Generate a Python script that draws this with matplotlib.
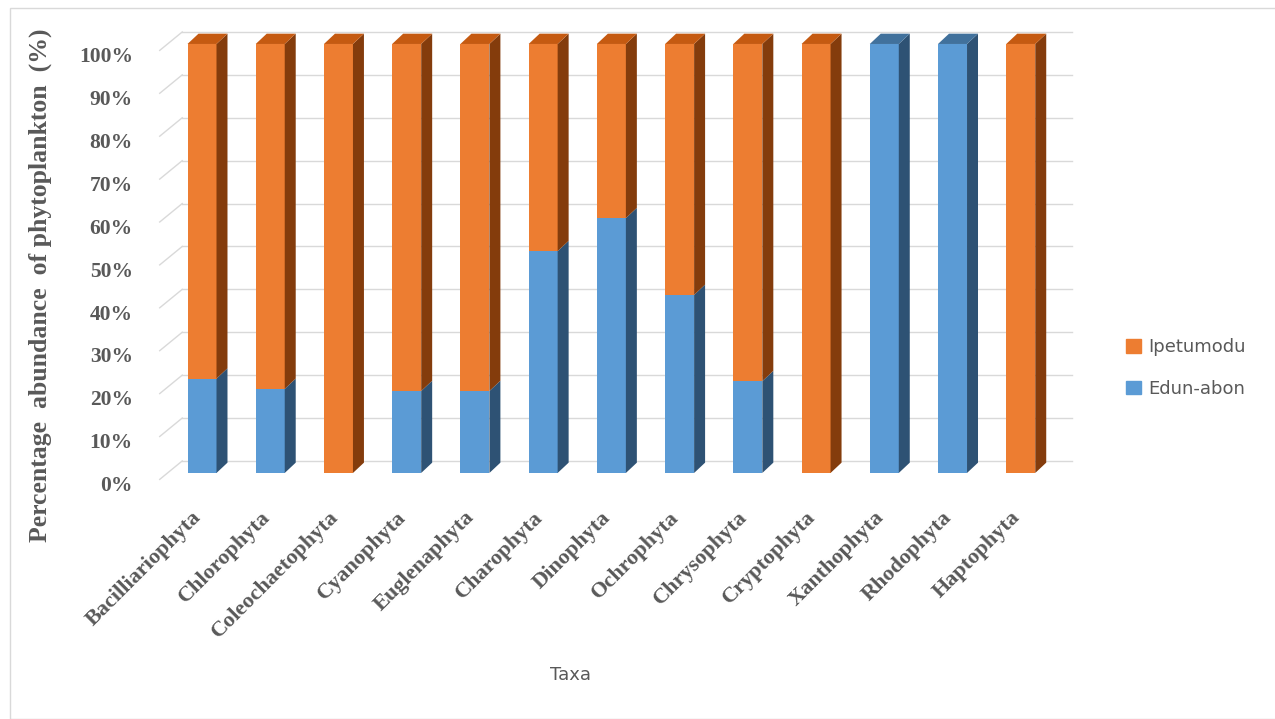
import matplotlib.pyplot as plt
from matplotlib.patches import Polygon, Patch

# %% data
taxa = ['Bacilliariophyta', 'Chlorophyta', 'Coleochaetophyta', 'Cyanophyta',
        'Euglenaphyta', 'Charophyta', 'Dinophyta', 'Ochrophyta',
        'Chrysophyta', 'Cryptophyta', 'Xanthophyta', 'Rhodophyta',
        'Haptophyta']
edun_abon = [22, 19.6, 0, 19.1, 19.1, 51.7, 59.4, 41.5, 21.4, 0, 100, 100, 0]
ipetumodu = [100 - v for v in edun_abon]
y_ticks = [0, 10, 20, 30, 40, 50, 60, 70, 80, 90, 100]

# colours: front, side, top
blue = ('#5B9BD5', '#2E5274', '#41719C')
orange = ('#ED7D31', '#843C0C', '#C55A11')
grey = '#595959'

W, H = 1275, 719
fig = plt.figure(figsize=(W / 100, H / 100), dpi=100)
fig.patches.append(plt.Rectangle((10 / W, 0), 1, 1 - 8 / H, transform=fig.transFigure,
                                 fill=False, edgecolor='#D9D9D9', lw=1))
ax = fig.add_axes([0.1183, 0.3064, 0.7358, 0.6563])
ax.set_xlim(-0.75, 13.0)
ax.set_ylim(-6, 104)
for s in ax.spines.values():
    s.set_visible(False)

bw = 0.425      # bar width
dx, dy = 0.161, 2.4  # depth offset

# back wall gridlines + floor diagonals
for v in y_ticks:
    ax.plot([-0.29, 12.75], [v + 2.8, v + 2.8], color='#D9D9D9', lw=1, zorder=0)
    ax.plot([-0.62, -0.29], [v - 1.5, v + 2.8], color='#D9D9D9', lw=1, zorder=0)


def draw_segment(x, b, t, cols, top):
    if t - b <= 0:
        return
    ax.bar(x, t - b, bottom=b, width=bw, color=cols[0], zorder=2)
    r = x + bw / 2
    ax.add_patch(Polygon([(r, b), (r + dx, b + dy), (r + dx, t + dy), (r, t)],
                         closed=True, facecolor=cols[1], edgecolor='none', zorder=2))
    if top:
        l = x - bw / 2
        ax.add_patch(Polygon([(l, t), (l + dx, t + dy), (r + dx, t + dy), (r, t)],
                             closed=True, facecolor=cols[2], edgecolor='none', zorder=2))


for i, (e, p) in enumerate(zip(edun_abon, ipetumodu)):
    draw_segment(i, 0, e, blue, p == 0)
    draw_segment(i, e, e + p, orange, True)

# y tick labels
ax.set_yticks([v - 2.5 for v in y_ticks])
ax.set_yticklabels([f'{v}%' for v in y_ticks], family='Liberation Serif',
                   fontweight='bold', fontsize=15.5, color=grey)
ax.tick_params(axis='y', length=0, pad=13)
ax.set_xticks([])

for i, name in enumerate(taxa):
    ax.text(i - 0.05, -9.7, name, rotation=45, rotation_mode='anchor',
            ha='right', va='center', family='Liberation Serif',
            fontweight='bold', fontsize=16, color=grey, clip_on=False)

fig.text(40 / W, 1 - 285 / H, 'Percentage  abundance  of phytoplankton  (%)',
         rotation=90, ha='center', va='center', family='Liberation Serif',
         fontweight='bold', fontsize=18.5, color=grey)
fig.text(571 / W, 1 - 675 / H, 'Taxa', ha='center', va='center',
         family='DejaVu Sans', fontsize=13, color=grey)

handles = [Patch(color=orange[0], label='Ipetumodu'),
           Patch(color=blue[0], label='Edun-abon')]
leg = fig.legend(handles=handles, loc='center left',
                 bbox_to_anchor=(1110 / W, 1 - 368 / H), frameon=False,
                 prop={'family': 'DejaVu Sans', 'size': 13},
                 labelcolor=grey, handlelength=0.8, handleheight=0.8,
                 handletextpad=0.4, labelspacing=1.3)

fig.savefig('out.png', dpi=100)
